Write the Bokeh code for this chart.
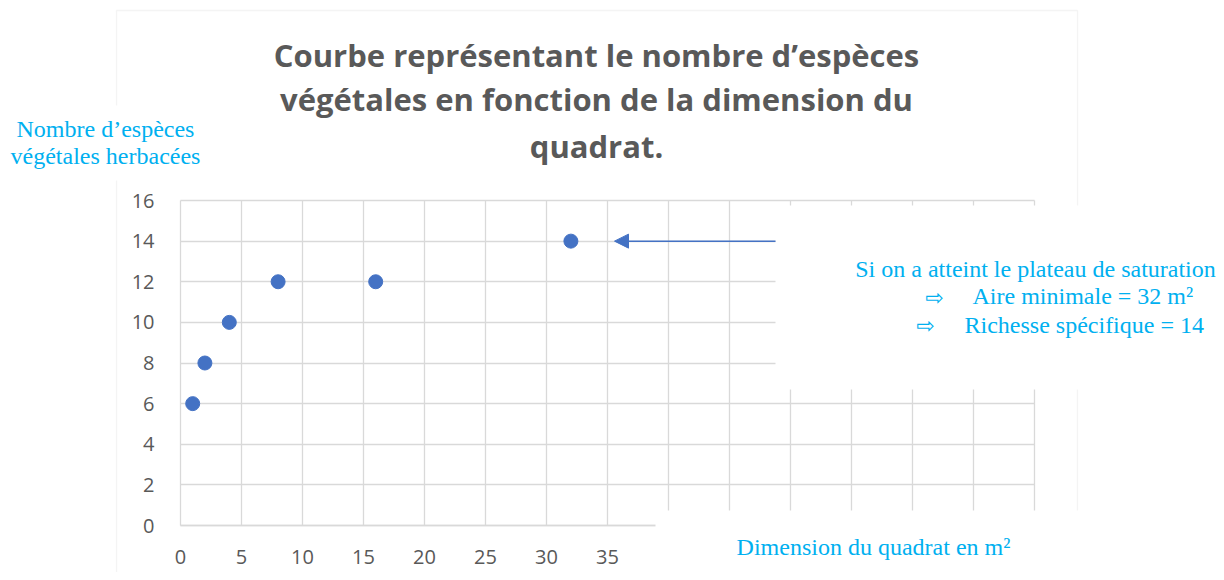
from bokeh.plotting import figure
from bokeh.models import (Range1d, FixedTicker, Label, BoxAnnotation, Arrow, NormalHead,
                          LinearAxis, Grid)
from bokeh.embed import file_html
from bokeh.resources import INLINE

# ---------------- data ----------------
quadrat_area = [1, 2, 4, 8, 16, 32]          # m²
species_count = [6, 8, 10, 12, 12, 14]
x_ticks = [0, 5, 10, 15, 20, 25, 30, 35, 40, 45, 50, 55, 60, 65, 70]
y_ticks = [0, 2, 4, 6, 8, 10, 12, 14, 16]
title_lines = ["Courbe représentant le nombre d’espèces",
               "végétales en fonction de la dimension du",
               "quadrat."]
y_label_lines = ["Nombre d’espèces", "végétales herbacées"]
x_label_text = "Dimension du quadrat en m²"
note_lines = ["Si on a atteint le plateau de saturation",
              "Aire minimale = 32 m²",
              "Richesse spécifique = 14"]

# ---------------- layout (pixels) ----------------
W, H = 1216, 572
FL, FR, FT, FB = 180, 1034, 200, 525          # data area in pixels
X0, X1 = x_ticks[0], x_ticks[-1]
Y0, Y1 = y_ticks[0], y_ticks[-1]


def dx(px):
    return X0 + (px - FL) * (X1 - X0) / (FR - FL)


def dy(py):
    return Y0 + (FB - py) * (Y1 - Y0) / (FB - FT)


GREY = "#595959"
GRID = "#D9D9D9"
CYAN = "#00B0F0"
BLUE = "#4472C4"

p = figure(width=W, height=H, x_range=Range1d(dx(0), dx(W)), y_range=Range1d(dy(H), dy(0)),
           output_backend="svg", toolbar_location=None,
           x_axis_type=None, y_axis_type=None)
p.min_border = 0
p.background_fill_color = "white"
p.border_fill_color = "white"
p.outline_line_color = None

# grids limited to the data area
has_cb = "cross_bounds" in Grid.properties()
for dim, ticks, cb in [(0, x_ticks, (Y0, Y1)), (1, y_ticks, (X0, X1))]:
    kw = dict(dimension=dim, ticker=FixedTicker(ticks=ticks),
              grid_line_color=GRID, grid_line_width=1.3)
    if has_cb:
        kw["cross_bounds"] = cb
    g = Grid(**kw)
    if has_cb:
        p.add_layout(g, "center")
if not has_cb:
    p.segment(x0=x_ticks, y0=[Y0] * len(x_ticks), x1=x_ticks, y1=[Y1] * len(x_ticks),
              line_color=GRID, line_width=1.3)
    p.segment(x0=[X0] * len(y_ticks), y0=y_ticks, x1=[X1] * len(y_ticks), y1=y_ticks,
              line_color=GRID, line_width=1.3)

# axes drawn inside the frame at fixed data locations
xax = LinearAxis(fixed_location=Y0, bounds=(X0, X1), ticker=FixedTicker(ticks=x_ticks))
yax = LinearAxis(fixed_location=X0, bounds=(Y0, Y1), ticker=FixedTicker(ticks=y_ticks))
for ax in (xax, yax):
    ax.major_tick_line_color = None
    ax.minor_tick_line_color = None
    ax.major_label_text_font = "Open Sans"
    ax.major_label_text_font_size = "20px"
    ax.major_label_text_color = GREY
xax.axis_line_color = GRID
xax.axis_line_width = 1.6
xax.major_label_standoff = 18
yax.axis_line_color = None
yax.major_label_standoff = 20
p.add_layout(xax, "below")
p.add_layout(yax, "left")

p.scatter(quadrat_area, species_count, size=14, fill_color=BLUE, line_color=BLUE)

# outer chart border
p.add_layout(BoxAnnotation(left=dx(116), right=dx(1077), top=dy(10), bottom=dy(800),
                           fill_alpha=0, line_color=GRID, line_width=1.3, level="annotation"))

# white overlay boxes
for l, r, t, b in [(775, 1300, 205, 389), (655, 1300, 510, 800), (-50, 200, 105, 180)]:
    p.add_layout(BoxAnnotation(left=dx(l), right=dx(r), top=dy(t), bottom=dy(b),
                               fill_color="white", fill_alpha=1, line_color=None,
                               level="overlay"))

# arrow pointing at the plateau
p.add_layout(Arrow(end=NormalHead(size=14, fill_color=BLUE, line_color=BLUE),
                   x_start=dx(775), y_start=species_count[-1],
                   x_end=dx(614), y_end=species_count[-1],
                   line_color=BLUE, line_width=1.5, level="overlay"))


def lab(text, px, py, size, color, font="Liberation Serif", align="center", style="normal",
        baseline="alphabetic"):
    p.add_layout(Label(x=dx(px), y=dy(py), text=text, text_align=align,
                       text_baseline=baseline, text_font=font, text_font_style=style,
                       text_font_size=size, text_color=color, level="overlay"))


for line, base in zip(title_lines, [54, 98, 145]):
    lab(line, 596, base, "31px", GREY, font="Open Sans", style="bold")

for line, base in zip(y_label_lines, [128, 155]):
    lab(line, 105, base, "24px", CYAN)

lab(x_label_text, 873, 546, "24px", CYAN)

lab(note_lines[0], 1035, 268, "24px", CYAN)
lab("⇨", 934, 297, "22px", CYAN, font="DejaVu Sans", baseline="middle")
lab(note_lines[1], 972, 295, "24px", CYAN, align="left")
lab("⇨", 925, 325, "22px", CYAN, font="DejaVu Sans", baseline="middle")
lab(note_lines[2], 964, 324, "24px", CYAN, align="left")

open("out.html", "w").write(file_html(p, INLINE))
